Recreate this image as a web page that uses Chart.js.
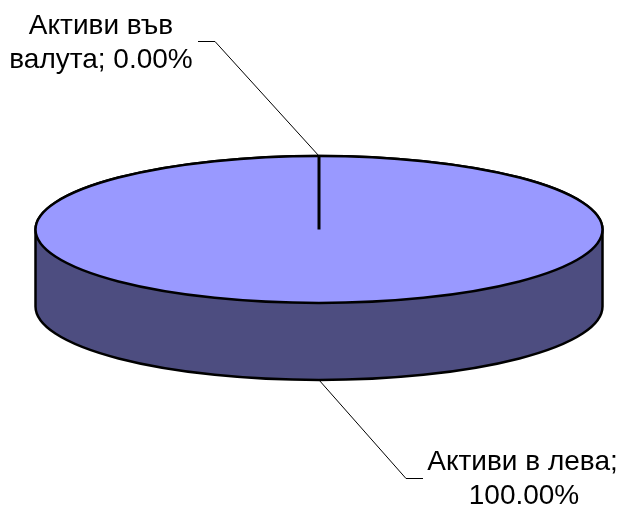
<!DOCTYPE html>
<html lang="bg">
<head>
<meta charset="UTF-8">
<title>Активи</title>
<script src="https://cdn.jsdelivr.net/npm/chart.js"></script>
<style>
    html, body { margin: 0; padding: 0; background: #fff; }
    canvas { display: block; }
</style>
</head>
<body>
<canvas id="pie" width="621" height="506"></canvas>
<script>
    const categories = ['Активи в лева', 'Активи във валута'];
    const shares = [100, 0];
    const labelLines = [
        ['Активи в лева;', '100.00%'],
        ['Активи във', 'валута; 0.00%']
    ];

    const topColor = '#9999FF';
    const sideColor = '#4D4D80';
    const squash = 73.5 / 283.5;   // tilt of the pie
    const depth = 77;              // height of the wall

    // the path is built in squashed space, stroked in plain space so the line stays even
    function ellipsePath(ctx, x, y, r, from, to) {
        ctx.save();
        ctx.translate(x, y);
        ctx.scale(1, squash);
        ctx.arc(0, 0, r, from, to);
        ctx.restore();
    }

    const pie3d = {
        id: 'pie3d',
        beforeDatasetDraw(chart) {
            const ctx = chart.ctx;
            const arc = chart.getDatasetMeta(0).data[0];
            const r = arc.outerRadius;

            // wall first, the library paints the top over it
            ctx.save();
            ctx.beginPath();
            ellipsePath(ctx, arc.x, arc.y, r, Math.PI, 0);
            ellipsePath(ctx, arc.x, arc.y + depth, r, 0, Math.PI);
            ctx.closePath();
            ctx.fillStyle = sideColor;
            ctx.fill();
            ctx.lineWidth = 2.5;
            ctx.strokeStyle = '#000';
            ctx.stroke();
            ctx.restore();

            ctx.save();
            ctx.translate(0, arc.y);
            ctx.scale(1, squash);
            ctx.translate(0, -arc.y);
        },
        afterDatasetDraw(chart) {
            const ctx = chart.ctx;
            ctx.restore();

            const arcs = chart.getDatasetMeta(0).data;
            const arc = arcs[0];
            const r = arc.outerRadius;

            ctx.save();
            ctx.strokeStyle = '#000';
            ctx.lineWidth = 2.5;
            ctx.beginPath();
            ellipsePath(ctx, arc.x, arc.y, r, 0, Math.PI * 2);
            ctx.closePath();
            ctx.stroke();

            // the 0% slice collapses to a single edge
            const a = arcs[1].startAngle;
            const edgeX = arc.x + Math.cos(a) * r;
            const edgeY = arc.y + Math.sin(a) * r * squash;
            ctx.lineWidth = 3;
            ctx.beginPath();
            ctx.moveTo(arc.x, arc.y);
            ctx.lineTo(edgeX, edgeY);
            ctx.stroke();

            // leader lines
            ctx.lineWidth = 1;
            ctx.beginPath();
            ctx.moveTo(edgeX, edgeY);
            ctx.lineTo(215, 41.5);
            ctx.lineTo(198, 41.5);
            ctx.moveTo(arc.x, arc.y + r * squash + depth);
            ctx.lineTo(406, 478.5);
            ctx.lineTo(423, 478.5);
            ctx.stroke();

            // labels
            ctx.fillStyle = '#000';
            ctx.font = '28px "Liberation Sans", Arial, sans-serif';
            ctx.textAlign = 'center';
            ctx.textBaseline = 'alphabetic';
            ctx.fillText(labelLines[1][0], 101, 34);
            ctx.fillText(labelLines[1][1], 101, 68);
            ctx.fillText(labelLines[0][0], 522.5, 470);
            ctx.fillText(labelLines[0][1], 524, 504);
            ctx.restore();
        }
    };

    new Chart(document.getElementById('pie'), {
        type: 'pie',
        data: {
            labels: categories,
            datasets: [{
                data: shares,
                backgroundColor: [topColor, topColor],
                borderWidth: 0,
                clip: false
            }]
        },
        options: {
            responsive: false,
            animation: false,
            events: [],
            radius: 283.5,
            layout: { padding: { left: 17, bottom: 47 } },
            plugins: {
                legend: { display: false },
                tooltip: { enabled: false }
            }
        },
        plugins: [pie3d]
    });
</script>
</body>
</html>
